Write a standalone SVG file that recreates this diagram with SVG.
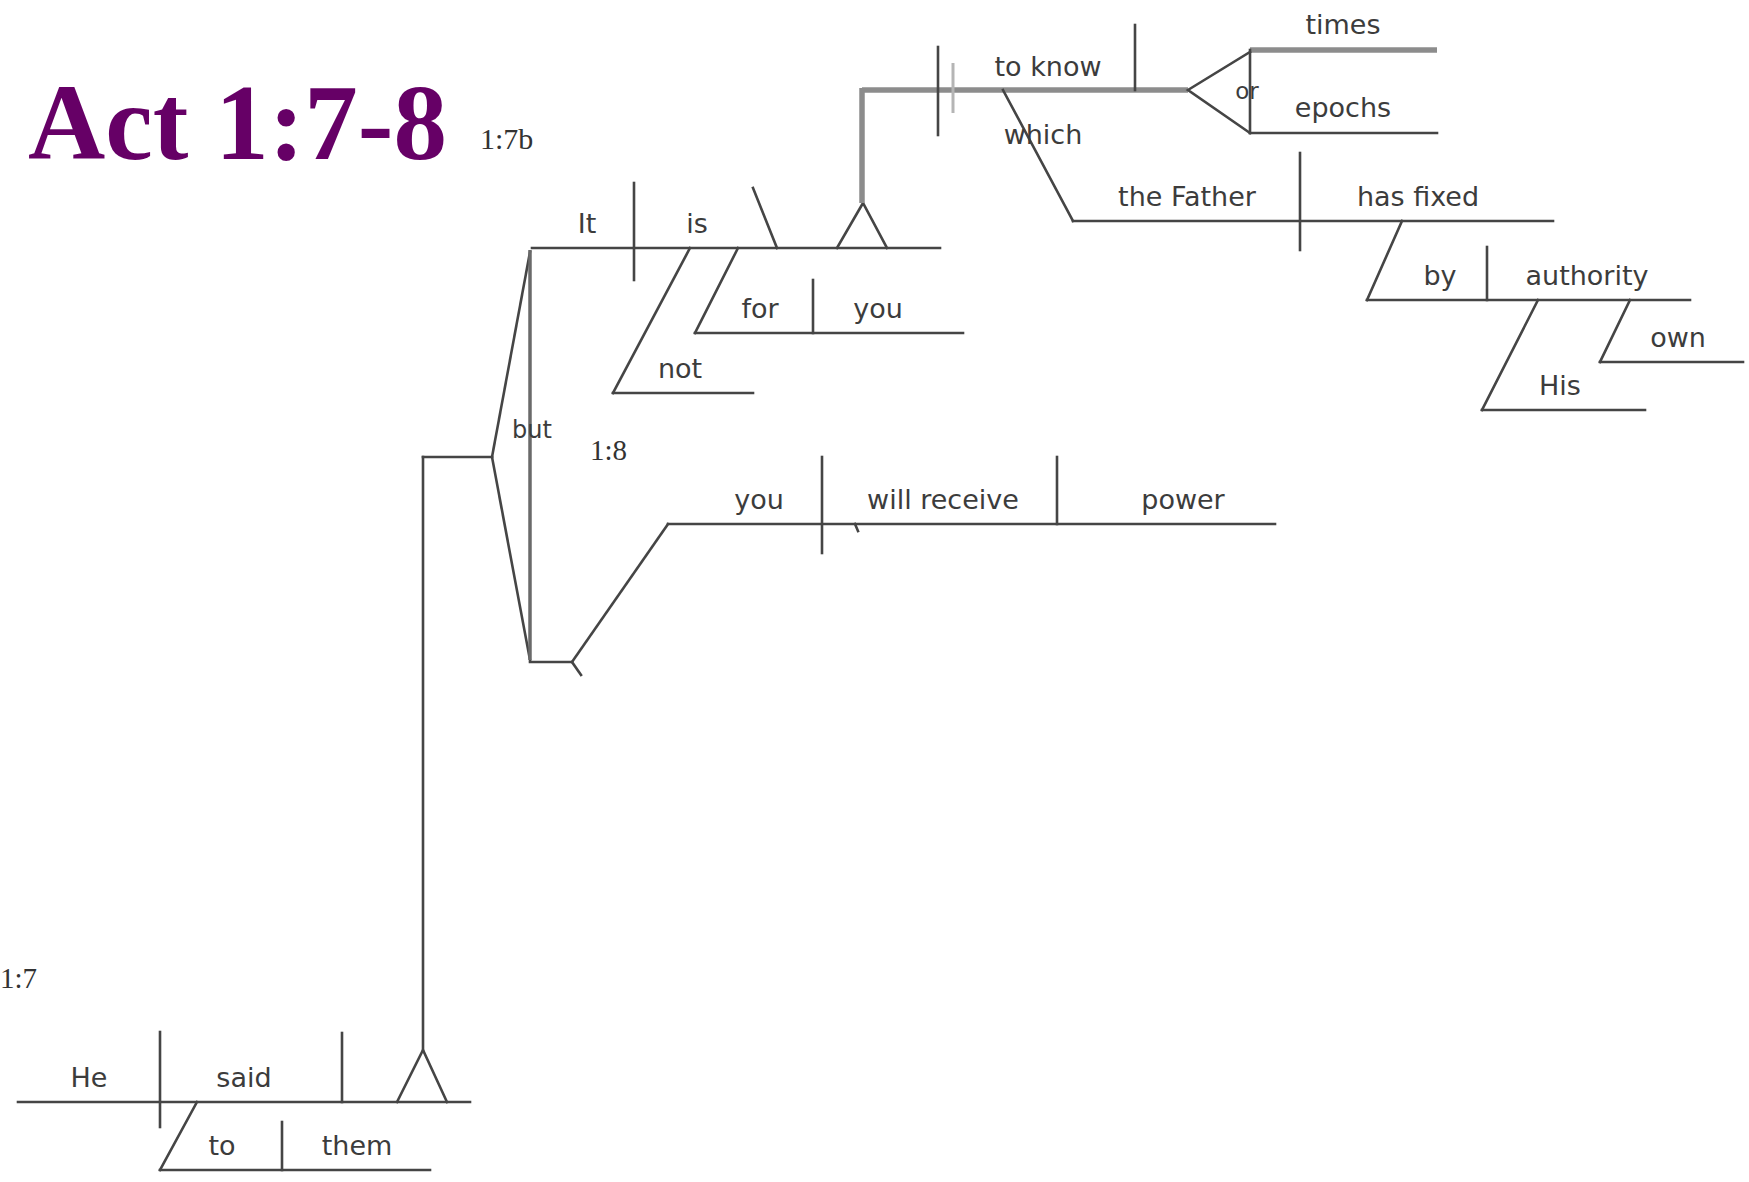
<svg xmlns="http://www.w3.org/2000/svg" width="1749" height="1182" viewBox="0 0 1749 1182">
<style>
.ln{stroke:#454545;stroke-width:2.6;fill:none;stroke-linecap:square}
.tk{stroke:#8c8c8c;stroke-width:5.5;fill:none}
.lt{stroke:#b5b5b5;stroke-width:3;fill:none}
.w{font-family:"DejaVu Sans",sans-serif;font-size:27px;fill:#3c3c3c;text-anchor:middle}
.v{font-family:"Liberation Serif",serif;font-size:29px;fill:#333}
.title{font-family:"Liberation Serif",serif;font-weight:bold;font-size:107px;fill:#660066}
</style>
<rect width="1749" height="1182" fill="#fff"/>
<text class="title" x="28" y="159">Act 1:7-8</text>
<text class="v" x="480" y="149" style="font-size:30px">1:7b</text>
<text class="v" x="590" y="460">1:8</text>
<text class="v" x="0" y="988">1:7</text>

<g id="main-he-said">
<line class="ln" x1="18" y1="1102" x2="470" y2="1102"/>
<line class="ln" x1="160" y1="1032" x2="160" y2="1127"/>
<line class="ln" x1="342" y1="1033" x2="342" y2="1102"/>
<text class="w" x="89" y="1087">He</text>
<text class="w" x="244" y="1087">said</text>
</g>
<g id="prep-to-them">
<line class="ln" x1="160" y1="1170" x2="430" y2="1170"/>
<line class="ln" x1="282" y1="1122" x2="282" y2="1170"/>
<text class="w" x="222" y="1155">to</text>
<text class="w" x="357" y="1155">them</text>
</g>

<g id="clause-it-is">
<line class="ln" x1="532" y1="248" x2="940" y2="248"/>
<line class="ln" x1="634" y1="183" x2="634" y2="280"/>
<line class="ln" x1="753" y1="188" x2="777" y2="248"/>
<text class="w" x="587" y="233">It</text>
<text class="w" x="697" y="233">is</text>
</g>
<g id="mod-not">
<line class="ln" x1="613" y1="393" x2="753" y2="393"/>
<text class="w" x="680" y="378">not</text>
</g>
<g id="prep-for-you">
<line class="ln" x1="695" y1="333" x2="963" y2="333"/>
<line class="ln" x1="813" y1="280" x2="813" y2="333"/>
<text class="w" x="760" y="318">for</text>
<text class="w" x="878" y="318">you</text>
</g>

<g id="inf-to-know">
<line class="tk" x1="862" y1="90" x2="1188" y2="90"/>
<line class="ln" x1="938" y1="47" x2="938" y2="135"/>
<line class="lt" x1="953" y1="63" x2="953" y2="113"/>
<line class="ln" x1="1135" y1="25" x2="1135" y2="90"/>
<text class="w" x="1048" y="76">to know</text>
</g>
<g id="obj-times">
<line class="tk" x1="1250" y1="50" x2="1437" y2="50"/>
<text class="w" x="1343" y="34">times</text>
</g>
<g id="obj-epochs">
<line class="ln" x1="1250" y1="133" x2="1437" y2="133"/>
<text class="w" x="1343" y="117">epochs</text>
</g>
<g id="rel-father-fixed">
<line class="ln" x1="1073" y1="221" x2="1553" y2="221"/>
<line class="ln" x1="1300" y1="153" x2="1300" y2="250"/>
<text class="w" x="1187" y="206">the Father</text>
<text class="w" x="1418" y="206">has fixed</text>
</g>
<g id="prep-by-authority">
<line class="ln" x1="1367" y1="300" x2="1690" y2="300"/>
<line class="ln" x1="1487" y1="247" x2="1487" y2="300"/>
<text class="w" x="1440" y="285">by</text>
<text class="w" x="1587" y="285">authority</text>
</g>
<g id="mod-his">
<line class="ln" x1="1482" y1="410" x2="1645" y2="410"/>
<text class="w" x="1560" y="395">His</text>
</g>
<g id="mod-own">
<line class="ln" x1="1600" y1="362" x2="1743" y2="362"/>
<text class="w" x="1678" y="347">own</text>
</g>

<g id="clause-you-receive">
<line class="ln" x1="668" y1="524" x2="1275" y2="524"/>
<line class="ln" x1="822" y1="457" x2="822" y2="553"/>
<line class="ln" x1="1057" y1="457" x2="1057" y2="524"/>
<line class="ln" x1="855" y1="524" x2="858" y2="531"/>
<text class="w" x="759" y="509">you</text>
<text class="w" x="943" y="509">will receive</text>
<text class="w" x="1183" y="509">power</text>
</g>

<g id="connectors">
<polyline class="ln" points="397,1102 423,1050 447,1102"/>
<line class="ln" x1="423" y1="1050" x2="423" y2="457"/>
<line class="ln" x1="423" y1="457" x2="492" y2="457"/>
<line class="ln" x1="197" y1="1102" x2="160" y2="1170"/>
<line class="ln" x1="492" y1="457" x2="530" y2="252"/>
<line class="ln" x1="492" y1="457" x2="530" y2="660"/>
<line class="tk" x1="530" y1="250" x2="530" y2="660" style="stroke-width:3.5;stroke:#6a6a6a"/>
<line class="ln" x1="530" y1="662" x2="572" y2="662"/>
<line class="ln" x1="572" y1="662" x2="668" y2="524"/>
<line class="ln" x1="572" y1="662" x2="581" y2="675"/>
<text class="w" x="532" y="438" style="font-size:24px">but</text>
<line class="ln" x1="690" y1="248" x2="613" y2="393"/>
<line class="ln" x1="738" y1="248" x2="695" y2="333"/>
<polyline class="ln" points="837,248 863,203 887,248"/>
<line class="tk" x1="862" y1="203" x2="862" y2="88"/>
<polyline class="ln" points="1250,52 1188,90 1250,133"/>
<line class="ln" x1="1250" y1="50" x2="1250" y2="133"/>
<text class="w" x="1247" y="99" style="font-size:23px">or</text>
<line class="ln" x1="1003" y1="90" x2="1073" y2="221"/>
<text class="w" x="1043" y="144">which</text>
<line class="ln" x1="1402" y1="221" x2="1367" y2="300"/>
<line class="ln" x1="1538" y1="300" x2="1482" y2="410"/>
<line class="ln" x1="1630" y1="300" x2="1600" y2="362"/>
</g>
</svg>
